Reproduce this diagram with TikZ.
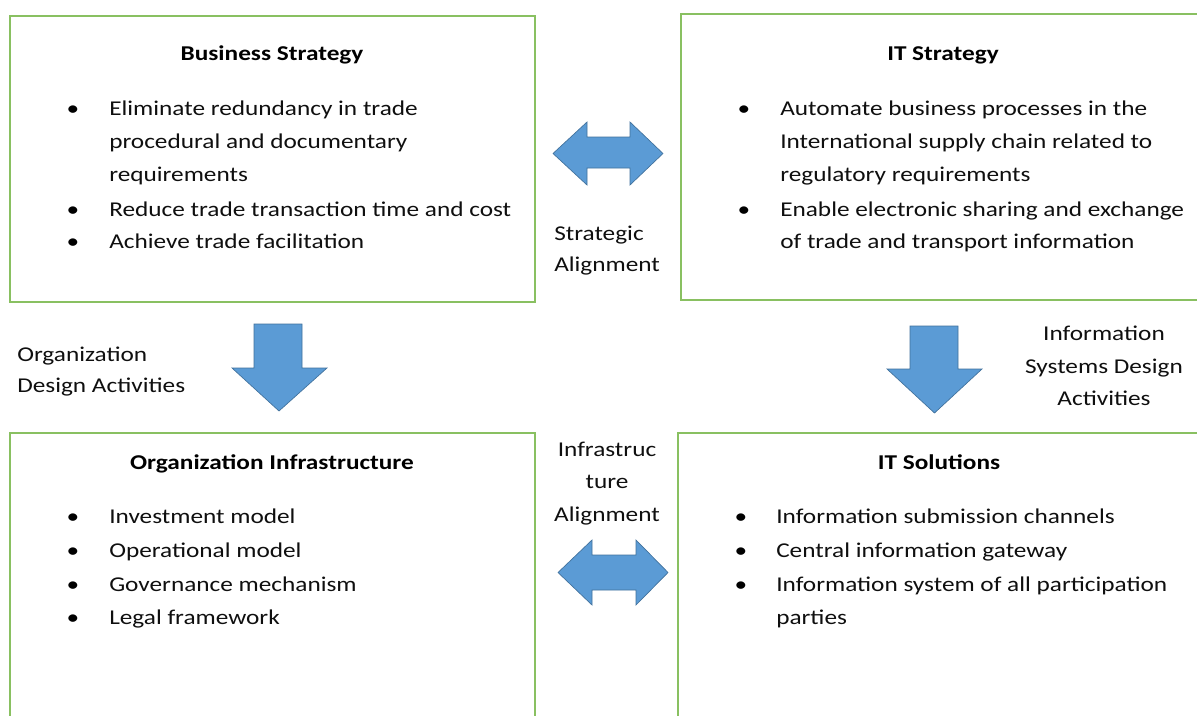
\documentclass[tikz,border=0pt]{standalone}
\usepackage{fontspec}
\setmainfont{Carlito}[FakeStretch=1.2]
\definecolor{boxgreen}{RGB}{137,192,97}
\definecolor{arrowblue}{RGB}{91,155,213}
\definecolor{arrowedge}{RGB}{65,113,156}
\definecolor{txtcol}{RGB}{15,15,15}
\newcommand\fsz{\fontsize{15.8}{20}\selectfont}
\tikzset{
  boxframe/.style={draw=boxgreen, line width=1.5pt},
  txt/.style={anchor=base west, inner sep=0pt, font=\fsz, text=txtcol},
  ctxt/.style={anchor=base, inner sep=0pt, font=\fsz, text=txtcol},
  ttl/.style={anchor=base, inner sep=0pt, font=\fsz\bfseries, text=black},
  bul/.style={anchor=base, inner sep=0pt, font=\fsz, text=black},
  blk/.style={fill=arrowblue, draw=arrowedge, line width=0.5pt, line join=miter}
}
\begin{document}
\begin{tikzpicture}[x=0.75pt,y=-0.75pt]
\useasboundingbox (0,0) rectangle (1197,715);
\clip (0,0) rectangle (1197,715);
\fill[white] (0,0) rectangle (1197,715);
% boxes
\draw[boxframe] (10,16) rectangle (535,302);
\draw[boxframe] (681,14) rectangle (1215,300);
\draw[boxframe] (10,433) rectangle (535,735);
\draw[boxframe] (678,433) rectangle (1215,735);
% block arrows
\draw[blk] (553,153.5) -- (587,122) -- (587,137) -- (630,137) -- (630,122) -- (663,153.5)
  -- (630,185) -- (630,168) -- (587,168) -- (587,185) -- cycle;
\draw[blk] (558,572.5) -- (592,540) -- (592,555) -- (636,555) -- (636,540) -- (668,572.5)
  -- (636,605) -- (636,590) -- (592,590) -- (592,605) -- cycle;
\draw[blk] (254,324) -- (302,324) -- (302,368) -- (327,368) -- (279,411) -- (232,368) -- (254,368) -- cycle;
\draw[blk] (910,326) -- (958,326) -- (958,369) -- (982,369) -- (934.5,413) -- (887,369) -- (910,369) -- cycle;
% Business Strategy
\node[ttl] (t1) at (272,60) {Business Strategy};
\node[bul] (b11) at (73,115) {•};
\node[txt] (l11) at (109,115) {Eliminate redundancy in trade};
\node[txt] (l12) at (109,148) {procedural and documentary};
\node[txt] (l13) at (109,181) {requirements};
\node[bul] (b12) at (73,216) {•};
\node[txt] (l14) at (109,216) {Reduce trade transaction time and cost};
\node[bul] (b13) at (73,248) {•};
\node[txt] (l15) at (109,248) {Achieve trade facilitation};
% IT Strategy
\node[ttl] (t2) at (943,60) {IT Strategy};
\node[bul] (b21) at (744,115) {•};
\node[txt] (l21) at (780,115) {Automate business processes in the};
\node[txt] (l22) at (780,148) {International supply chain related to};
\node[txt] (l23) at (780,181) {regulatory requirements};
\node[bul] (b22) at (744,216) {•};
\node[txt] (l24) at (780,216) {Enable electronic sharing and exchange};
\node[txt] (l25) at (780,248) {of trade and transport information};
% Organization Infrastructure
\node[ttl] (t3) at (272,469) {Organization Infrastructure};
\node[bul] (b31) at (73,523) {•};
\node[txt] (l31) at (109,523) {Investment model};
\node[bul] (b32) at (73,557) {•};
\node[txt] (l32) at (109,557) {Operational model};
\node[bul] (b33) at (73,591) {•};
\node[txt] (l33) at (109,591) {Governance mechanism};
\node[bul] (b34) at (73,624) {•};
\node[txt] (l34) at (109,624) {Legal framework};
% IT Solutions
\node[ttl] (t4) at (939,469) {IT Solutions};
\node[bul] (b41) at (741,523) {•};
\node[txt] (l41) at (776,523) {Information submission channels};
\node[bul] (b42) at (741,557) {•};
\node[txt] (l42) at (776,557) {Central information gateway};
\node[bul] (b43) at (741,591) {•};
\node[txt] (l43) at (776,591) {Information system of all participation};
\node[txt] (l44) at (776,624) {parties};
% labels
\node[txt] (s1) at (554,240) {Strategic};
\node[txt] (s2) at (554,271) {Alignment};
\node[txt] (o1) at (17,361) {Organization};
\node[txt] (o2) at (17,392) {Design Activities};
\node[ctxt] (i1) at (1104,340) {Information};
\node[ctxt] (i2) at (1104,373) {Systems Design};
\node[ctxt] (i3) at (1104,405) {Activities};
\node[ctxt] (a1) at (607,456) {Infrastruc};
\node[ctxt] (a2) at (607,488) {ture};
\node[ctxt] (a3) at (607,521) {Alignment};
\end{tikzpicture}
\end{document}
